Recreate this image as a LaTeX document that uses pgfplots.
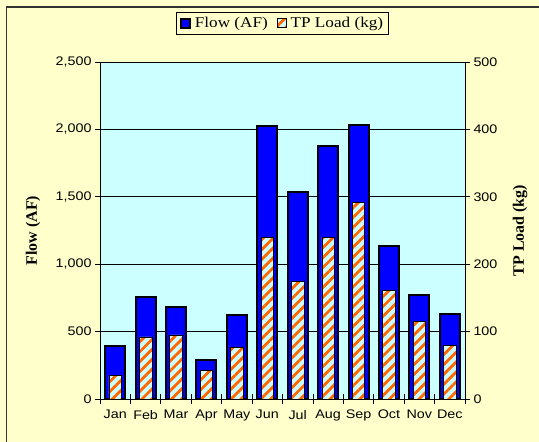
\documentclass[border=0pt]{standalone}
\usepackage{fontspec}
\setmainfont{Liberation Serif}
\newfontfamily\arialfont{Liberation Sans}[FakeStretch=1.15]
\newfontfamily\timesfont{Liberation Serif}[FakeStretch=1.15]
\usepackage{pgfplots}
\usepackage{pgfplotstable}
\pgfplotsset{compat=1.18}
\usetikzlibrary{patterns.meta}
\definecolor{bgyellow}{HTML}{FFFFCC}
\definecolor{plotcyan}{HTML}{CCFFFF}
\definecolor{barblue}{HTML}{0000FF}
\definecolor{stripeorange}{HTML}{FF6600}

\pgfplotstableread{
idx flow tp
0 390 35
1 755 92
2 680 95
3 290 42
4 625 77
5 2025 240
6 1535 175
7 1880 240
8 2030 292
9 1135 161
10 770 115
11 630 79
}\datatable

\begin{document}
\begin{tikzpicture}
\useasboundingbox (-100bp,-43bp) rectangle (439bp,399bp);
\fill[bgyellow] (-100bp,-43bp) rectangle (439bp,399bp);
\draw[line width=1.5bp, black!80] (-93.5bp,-50bp) -- (-93.5bp,392bp) -- (450bp,392bp);

\begin{axis}[
  at={(0bp,0bp)}, anchor=south west,
  scale only axis, width=365bp, height=337bp,
  xmin=-0.5, xmax=11.5, ymin=0, ymax=2500,
  axis background/.style={fill=plotcyan},
  axis line style={black, line width=0.8bp},
  ytick={0,500,...,2500},
  ytick pos=left,
  ymajorgrids, grid style={black, line width=0.7bp},
  xtick={0,...,11},
  xticklabels={Jan,Feb,Mar,Apr,May,Jun,Jul,Aug,Sep,Oct,Nov,Dec},
  xtick style={draw=none},
  ytick style={black, line width=0.7bp},
  tick align=center, major tick length=10bp,
  tick label style={font=\arialfont\fontsize{12.5}{12.5}\selectfont},
  xticklabel style={inner sep=0pt, yshift=-6bp},
  /pgf/number format/1000 sep={,},
  /pgf/number format/assume math mode=true,
  ylabel={Flow (AF)},
  ylabel style={at={(axis description cs:-0.1836,0.5)}, anchor=center, font=\bfseries\fontsize{16}{18}\selectfont},
]
\addplot[ybar, bar width=0.66, fill=barblue, draw=black, line width=2bp] table[x=idx,y=flow]{\datatable};
\end{axis}

\begin{axis}[
  at={(0bp,0bp)}, anchor=south west,
  scale only axis, width=365bp, height=337bp,
  xmin=-0.5, xmax=11.5, ymin=0, ymax=500,
  axis y line*=right, axis x line*=bottom,
  axis line style={black, line width=0.8bp},
  xtick={-0.5,0.5,...,11.5}, xticklabels={},
  ytick={0,100,...,500},
  tick style={black, line width=0.7bp},
  tick align=center, major tick length=10bp,
  tick label style={font=\arialfont\fontsize{12.5}{12.5}\selectfont},
  /pgf/number format/assume math mode=true,
  ylabel={TP Load (kg)},
  ylabel style={at={(axis description cs:1.1507,0.5)}, anchor=center, rotate=0, font=\bfseries\fontsize{16}{18}\selectfont},
  legend columns=2,
  legend style={at={(axis description cs:0.5,1.1157)}, anchor=center,
    draw=black, line width=0.8bp, fill=bgyellow,
    font=\timesfont\fontsize{15}{17}\selectfont,
    inner sep=3bp,
    /tikz/every odd column/.append style={column sep=2bp},
    /tikz/every even column/.append style={column sep=7bp}},
  legend image code/.code={\draw[#1] (0bp,-4.5bp) rectangle (9bp,4.5bp);},
]
\addlegendimage{fill=barblue, draw=black, line width=2bp}
\addlegendentry{Flow (AF)}
\addplot[ybar, bar width=0.41, fill=plotcyan, draw=black, line width=0.7bp,
  postaction={pattern={Lines[angle=45,distance=7bp,line width=2.8bp]}, pattern color=stripeorange}]
  table[x=idx,y=tp]{\datatable};
\addlegendentry{TP Load (kg)}
\end{axis}
\end{tikzpicture}
\end{document}
